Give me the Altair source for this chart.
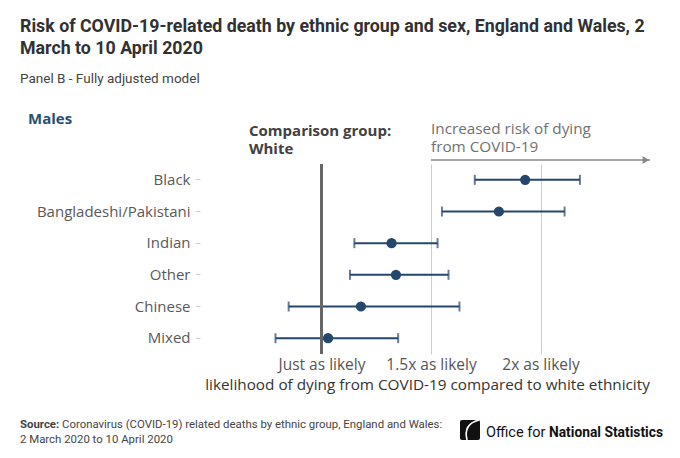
import altair as alt
import pandas as pd

groups = ["Black", "Bangladeshi/Pakistani", "Indian", "Other", "Chinese", "Mixed"]
estimate = [1.93, 1.81, 1.32, 1.34, 1.18, 1.03]
lower = [1.70, 1.55, 1.15, 1.13, 0.85, 0.79]
upper = [2.18, 2.11, 1.53, 1.58, 1.63, 1.35]
tick_values = [1, 1.5, 2]
tick_labels = ["Just as likely", "1.5x as likely", "2x as likely"]

df = pd.DataFrame({"group": groups, "est": estimate, "lo": lower, "hi": upper})

W, H = 438, 190
NAVY = "#24476b"
FONT = "Open Sans"
COND = "Roboto"

label_expr = " : ".join(
    f"datum.value == {v} ? '{t}'" for v, t in zip(tick_values, tick_labels)
) + " : ''"

xs = alt.Scale(domain=[0.5, 2.5], nice=False, zero=False)
ys = alt.Scale(type="band", domain=groups, paddingInner=0, paddingOuter=0)

xaxis = alt.Axis(
    values=tick_values, labelExpr=label_expr, grid=True, gridColor="#cccccc",
    domain=False, ticks=False, labelFont=FONT, labelFontSize=15.5,
    labelColor="#555555", labelPadding=3,
    title="likelihood of dying from COVID-19 compared to white ethnicity",
    titleFont=FONT, titleFontSize=15.3, titleFontWeight="normal",
    titleColor="#333333", titlePadding=5, titleX=W / 2 - 4,
)
yaxis = alt.Axis(
    title=None, domain=False, grid=False, ticks=True, tickSize=5,
    tickColor="#cccccc", offset=12, labelPadding=5, labelFont=FONT,
    labelFontSize=15, labelColor="#595959",
)

base = alt.Chart(df)

bars = base.mark_rule(color=NAVY, strokeWidth=2).encode(
    x=alt.X("lo:Q", scale=xs, axis=xaxis),
    x2="hi:Q",
    y=alt.Y("group:N", scale=ys, sort=groups, axis=yaxis),
)
cap_lo = base.mark_tick(color=NAVY, thickness=2, size=10).encode(
    x=alt.X("lo:Q", scale=xs), y=alt.Y("group:N", scale=ys, sort=groups)
)
cap_hi = base.mark_tick(color=NAVY, thickness=2, size=10).encode(
    x=alt.X("hi:Q", scale=xs), y=alt.Y("group:N", scale=ys, sort=groups)
)
ref = alt.Chart(pd.DataFrame({"v": [tick_values[0]]})).mark_rule(
    color="#666666", strokeWidth=3
).encode(x=alt.X("v:Q", scale=xs))
dots = base.mark_circle(color=NAVY, opacity=1, size=105).encode(
    x=alt.X("est:Q", scale=xs), y=alt.Y("group:N", scale=ys, sort=groups)
)

dummy = pd.DataFrame({"a": [0]})


def txt(text, x, y, size, weight="normal", color="#333333", font=FONT):
    return alt.Chart(dummy).mark_text(
        text=text, align="left", baseline="alphabetic", fontSize=size,
        fontWeight=weight, color=color, font=font,
    ).encode(x=alt.value(x), y=alt.value(y))


arrow = alt.Chart(pd.DataFrame({"a": [1.5], "b": [2.5]})).mark_rule(
    color="#888888", strokeWidth=1.5
).encode(x=alt.X("a:Q", scale=xs), x2="b:Q", y=alt.value(-4))
arrow_head = alt.Chart(dummy).mark_point(
    shape="triangle-right", filled=True, color="#888888", size=60, opacity=1
).encode(x=alt.value(W - 4), y=alt.value(-4))

logo = alt.Chart(dummy).mark_point(
    shape="M -1 -0.8 Q -1 -1 -0.8 -1 L 0.8 -1 Q 1 -1 1 -0.8 L 1 0.8 Q 1 1 0.8 1 L -0.8 1 Q -1 1 -1 0.8 Z",
    filled=True, color="#111111", size=400, opacity=1,
).encode(x=alt.value(470 - 212), y=alt.value(430 - 164))
logo_curve = alt.Chart(dummy).mark_point(
    shape="M 0.9 -1 Q -0.7 -0.6 -0.3 1", filled=False, color="white",
    strokeWidth=1.6, size=400, opacity=1,
).encode(x=alt.value(470 - 212), y=alt.value(430 - 164))

texts = [
    txt("Risk of COVID-19-related death by ethnic group and sex, England and Wales, 2",
        -192, 32 - 164, 17.8, "bold", "#323132", COND),
    txt("March to 10 April 2020", -192, 54 - 164, 17.8, "bold", "#323132", COND),
    txt("Panel B - Fully adjusted model", -192, 83 - 164, 13.5, "normal", "#444444", COND),
    txt("Males", -184, 124 - 164, 15, "bold", "#2a4f75"),
    txt("Comparison group:", 37, 136 - 164, 15, "bold", "#414042"),
    txt("White", 37, 154 - 164, 15, "bold", "#414042"),
    txt("Increased risk of dying", 219, 134 - 164, 15.3, "normal", "#707070"),
    txt("from COVID-19", 219, 152 - 164, 15.3, "normal", "#707070"),
    txt("Source:", -192, 428 - 164, 11.4, "bold", "#444444", COND),
    txt("Coronavirus (COVID-19) related deaths by ethnic group, England and Wales:",
        -150, 428 - 164, 11.4, "normal", "#444444", COND),
    txt("2 March 2020 to 10 April 2020", -192, 443 - 164, 11.4, "normal", "#444444", COND),
    txt("Office for", 486 - 212, 437 - 164, 14.5, "normal", "#111111", COND),
    txt("National Statistics", 549 - 212, 437 - 164, 13.8, "bold", "#111111", COND),
]

chart = alt.layer(
    bars, cap_lo, cap_hi, ref, dots, arrow, arrow_head, logo, logo_curve, *texts
).properties(
    width=W, height=H,
    autosize=alt.AutoSizeParams(type="none"),
    padding={"left": 204, "top": 156, "right": 22, "bottom": 96},
    background="white",
).configure_view(stroke=None)

chart.save("out.html", embed_options={"renderer": "svg", "actions": False})
